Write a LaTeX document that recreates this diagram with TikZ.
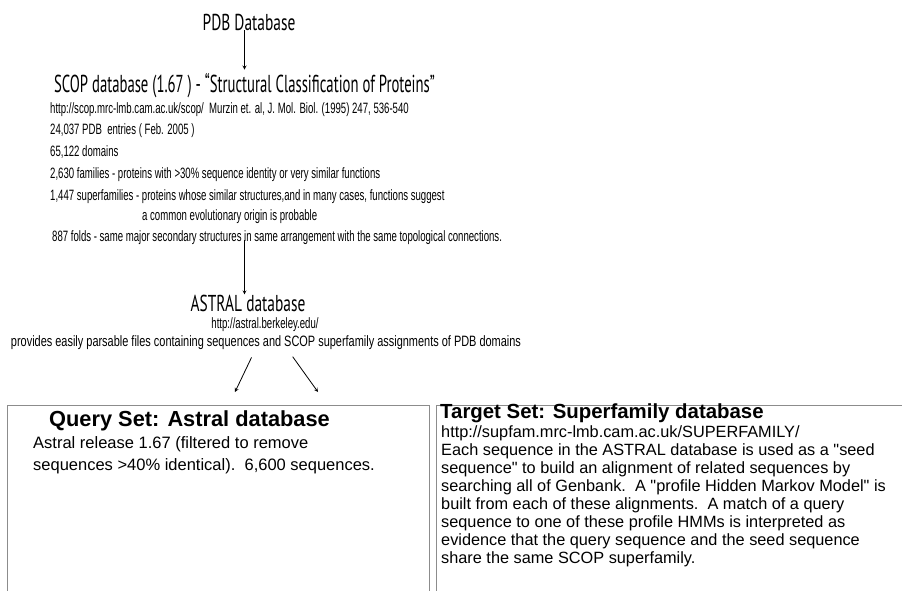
\documentclass[tikz,border=0pt]{standalone}
\usepackage{fontspec}
\setmainfont{Liberation Sans}
\newfontfamily\titlefont[FakeStretch=0.67]{PT Sans}
\newfontfamily\scopfont[FakeStretch=0.6]{PT Sans}
\newfontfamily\narrowfont[FakeStretch=0.64]{Liberation Sans}
\newfontfamily\widefont[FakeStretch=0.73]{Liberation Sans}
\usetikzlibrary{positioning}

\begin{document}
\begin{tikzpicture}[x=1pt, y=-1pt,
		title/.style={font=\titlefont\fontsize{23}{26}\selectfont, inner sep=0pt},
		info/.style={font=\narrowfont\fontsize{15}{17}\selectfont, inner sep=0pt, anchor=west},
		boxframe/.style={draw=black!45, line width=1.2pt, anchor=north west, minimum height=220pt},
		boxhead/.style={font=\bfseries\fontsize{20.4}{24}\selectfont, inner sep=0pt, anchor=west},
		boxtext/.style={font=\fontsize{16.3}{18.1}\selectfont, inner sep=0pt, anchor=north west, align=left},
		flow/.style={->, >=stealth, line width=0.8pt}]
		\useasboundingbox (0,0) rectangle (902,591);
		\clip (0,0) rectangle (902,591);

		\node[title] (pdb) at (249,22) {PDB Database};
		\node[title, font=\scopfont\fontsize{24.5}{28}\selectfont] (scop) at (244.5,86) {SCOP database (1.67 ) - “Structural Classification of Proteins”};

		\node[info] (url) at (50,110) {http://scop.mrc-lmb.cam.ac.uk/scop/\ \ Murzin et. al, J. Mol. Biol. (1995) 247, 536-540};
		\node[info] (entries) at (50,131) {24,037 PDB\ \ entries ( Feb. 2005 )};
		\node[info] (domains) at (50,152) {65,122 domains};
		\node[info] (families) at (50,175) {2,630 families - proteins with >30\% sequence identity or very similar functions};
		\node[info] (superfam) at (50,197) {1,447 superfamilies - proteins whose similar structures,and in many cases, functions suggest};
		\node[info] (origin) at (142,217) {a common evolutionary origin is probable};
		\node[info] (folds) at (52,238) {887 folds - same major secondary structures in same arrangement with the same topological connections.};

		\node[title] (astral) at (248,303) {ASTRAL database};
		\node[info, anchor=center] (astralurl) at (265,325) {http://astral.berkeley.edu/};
		\node[info, anchor=center, font=\widefont\fontsize{15}{17}\selectfont] (provides) at (266,343) {provides easily parsable files containing sequences and SCOP superfamily assignments of PDB domains};

		% the two sets
		\node[boxframe, minimum width=422pt] (query) at (7,405) {};
		\node[boxframe, minimum width=480pt] (target) at (436,405) {};

		\node[boxhead, font=\bfseries\fontsize{21.8}{26}\selectfont] (queryhead) at (49,421) {Query Set: Astral database};
		\node[boxtext, font=\fontsize{16.5}{22}\selectfont] (querybody) at (33,436.5) {Astral release 1.67 (filtered to remove\\sequences >40\% identical).\ \ 6,600 sequences.};

		\node[boxhead] (targethead) at (440,413) {Target Set: Superfamily database};
		\node[boxtext] (targetbody) at (441,425) {http://supfam.mrc-lmb.cam.ac.uk/SUPERFAMILY/\\
			Each sequence in the ASTRAL database is used as a \textquotedbl seed\\
			sequence\textquotedbl{} to build an alignment of related sequences by\\
			searching all of Genbank.\ \ A \textquotedbl profile Hidden Markov Model\textquotedbl{} is\\
			built from each of these alignments.\ \ A match of a query\\
			sequence to one of these profile HMMs is interpreted as\\
			evidence that the query sequence and the seed sequence\\
			share the same SCOP superfamily.};

		\coordinate (qtip) at (235,392);
		\coordinate (ttip) at (318,392);

		\draw[flow] (pdb.south -| scop.north) -- ([yshift=4pt]scop.north);
		\draw[flow] ([yshift=5pt]folds.south -| scop.north) -- (astral.north -| scop.north);
		\draw[flow, shorten <=8pt] ([xshift=-11pt]provides.south) -- (qtip);
		\draw[flow, shorten <=8pt] ([xshift=22pt]provides.south) -- (ttip);
	\end{tikzpicture}
\end{document}
